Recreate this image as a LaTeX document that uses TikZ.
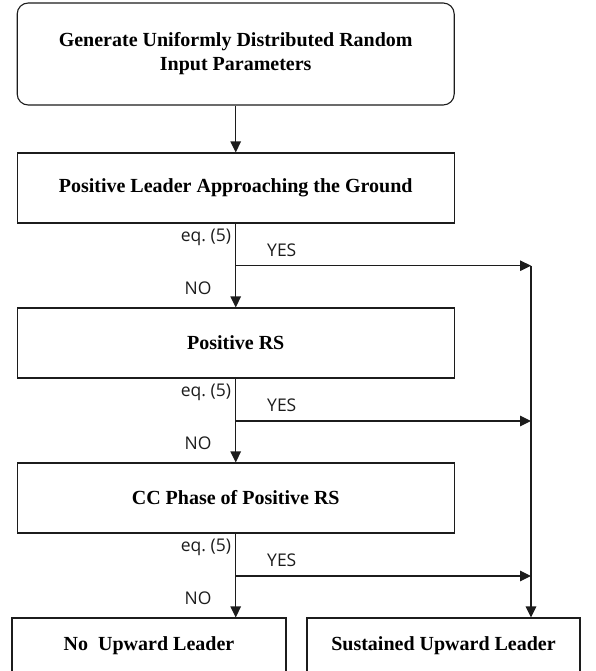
\documentclass[tikz,border=0pt]{standalone}
\usepackage{fontspec}
\setmainfont{Liberation Serif}
\newfontfamily\lblfont{Open Sans}
\usetikzlibrary{arrows.meta,calc}
\definecolor{ink}{HTML}{1C1C1C}
\def\xm{235.7}   % main column
\def\xr{531}     % yes column
\tikzset{
  stepbox/.style={draw=ink,line width=1.1pt,minimum width=437pt,minimum height=70pt,inner sep=0pt,
    font=\fontsize{20}{24}\selectfont\bfseries,align=center},
  startbox/.style={stepbox,rounded corners=11pt,minimum height=102pt},
  endbox/.style={stepbox,minimum width=274pt,minimum height=55pt},
  flow/.style={ink,line width=1.2pt,-{Triangle[length=11pt,width=10.5pt]}},
  lbl/.style={font=\lblfont\fontsize{17.5}{19}\selectfont,inner sep=0pt,text=ink},
}

\begin{document}
\begin{tikzpicture}[x=1pt,y=-1pt]
\useasboundingbox (0,0) rectangle (595,671);

% ---------------------------------------------------------------- boxes
\node[startbox] (gen) at (\xm,54) {Generate Uniformly Distributed Random\\Input Parameters};
\node[stepbox] (lead) at (\xm,188) {Positive Leader Approaching the Ground};
\node[stepbox] (rs) at (\xm,343) {Positive RS};
\node[stepbox] (cc) at (\xm,498) {CC Phase of Positive RS};
\node[endbox] (noup) at (149,645.5) {No\ \ Upward Leader};
\node[endbox,minimum width=273pt] (susup) at (443.5,645.5) {Sustained Upward Leader};

% ---------------------------------------------------------------- main flow
\draw[flow] (gen.south) -- (gen.south |- lead.north);

% ---------------------------------------------------------------- decisions: eq. (5)
\foreach \a/\b/\y [count=\i] in {lead/rs/265.7,rs/cc/421,cc/noup/576}{
  \coordinate (j\i) at (\xm,\y);
  \coordinate (r\i) at (\xr,\y);
  \draw[flow] (\a.south) -- (\a.south |- \b.north);
  \draw[flow] (j\i) -- (r\i);
  \node[lbl,anchor=east] (eq\i) at ($(j\i)+(-4.5,-28.7)$) {eq.\ (5)};
  \node[lbl,anchor=west] (yes\i) at ($(j\i)+(31.3,-15.7)$) {YES};
  \node[lbl] (no\i) at ($(j\i)+(-37.7,22.3)$) {NO};
}

% ---------------------------------------------------------------- yes column
\draw[flow] (r1) -- (r1 |- susup.north);

\end{tikzpicture}
\end{document}
